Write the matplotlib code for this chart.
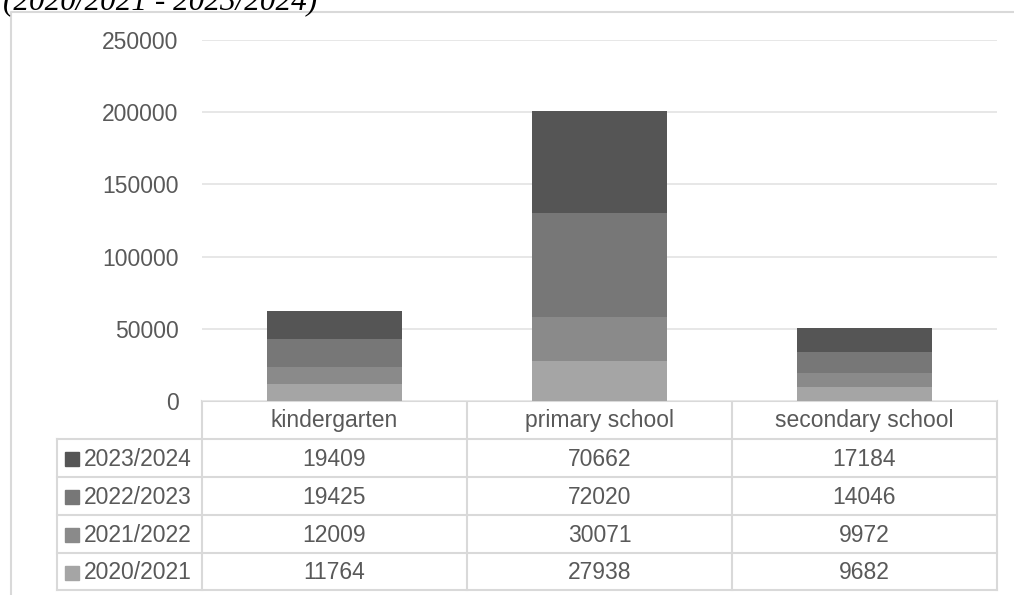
import matplotlib.pyplot as plt
from matplotlib.patches import Rectangle

categories = ['kindergarten', 'primary school', 'secondary school']
years = ['2020/2021', '2021/2022', '2022/2023', '2023/2024']
values = {
    '2020/2021': [11764, 27938, 9682],
    '2021/2022': [12009, 30071, 9972],
    '2022/2023': [19425, 72020, 14046],
    '2023/2024': [19409, 70662, 17184],
}
colors = {
    '2020/2021': '#a5a5a5',
    '2021/2022': '#8a8a8a',
    '2022/2023': '#777777',
    '2023/2024': '#555555',
}
title = '(2020/2021 - 2023/2024)'

W, H = 1014, 595
grid_c = '#d9d9d9'
text_c = '#595959'
font = 'Liberation Sans'
fs = 16.5

fig = plt.figure(figsize=(W / 100, H / 100), dpi=100)

# chart frame (cropped at right and bottom)
frame = fig.add_axes([0, 0, 1, 1])
frame.set_xlim(0, W)
frame.set_ylim(H, 0)
frame.axis('off')
frame.plot([11, 11, W + 5], [H + 5, 12, 12], color=grid_c, lw=1.5)
frame.text(3, 9, title, family='Liberation Serif', style='italic',
           fontsize=22.5, color='black', va='baseline', ha='left')

# plot area
left, right, top, bottom = 202, 997, 40, 401
ax = fig.add_axes([left / W, 1 - bottom / H, (right - left) / W, (bottom - top) / H])
x = range(len(categories))
base = [0] * len(categories)
for y in years:
    ax.bar(x, values[y], 0.51, bottom=base, color=colors[y], zorder=2)
    base = [b + v for b, v in zip(base, values[y])]
ax.set_xlim(-0.5, len(categories) - 0.5)
ax.set_ylim(0, 250000)
ax.set_yticks(range(0, 250001, 50000))
ax.grid(axis='y', color='#e3e3e3', lw=1.2, zorder=0)
ax.tick_params(length=0, labelsize=fs, labelcolor=text_c, pad=17)
for lab in ax.get_yticklabels():
    lab.set_family(font)
ax.set_xticks([])
for s in ax.spines.values():
    s.set_visible(False)

# data table
col_w = (right - left) / len(categories)
row_y = [401, 439, 477, 515, 553, 590]
leg_left = 57
tl = dict(color=grid_c, lw=1.5)
frame.plot([left, right], [row_y[0], row_y[0]], **tl)
for i, c in enumerate(categories):
    cx = left + col_w * (i + 0.5)
    frame.text(cx, (row_y[0] + row_y[1]) / 2 + 1, c, ha='center', va='center',
               fontsize=fs, color=text_c, family=font)
for k in range(1, len(row_y)):
    frame.plot([leg_left, right], [row_y[k], row_y[k]], **tl)
frame.plot([leg_left, leg_left], [row_y[1], row_y[-1]], **tl)
for i in range(len(categories) + 1):
    xx = left + col_w * i
    frame.plot([xx, xx], [row_y[0], row_y[-1]], **tl)
for r, y in enumerate(reversed(years)):
    cy = (row_y[r + 1] + row_y[r + 2]) / 2 + 1
    frame.add_patch(Rectangle((65, cy - 7), 14, 14, color=colors[y]))
    frame.text(84, cy, y, ha='left', va='center', fontsize=fs,
               color=text_c, family=font)
    for i, v in enumerate(values[y]):
        cx = left + col_w * (i + 0.5)
        frame.text(cx, cy, str(v), ha='center', va='center', fontsize=fs,
                   color=text_c, family=font)

fig.savefig('out.png', dpi=100)
